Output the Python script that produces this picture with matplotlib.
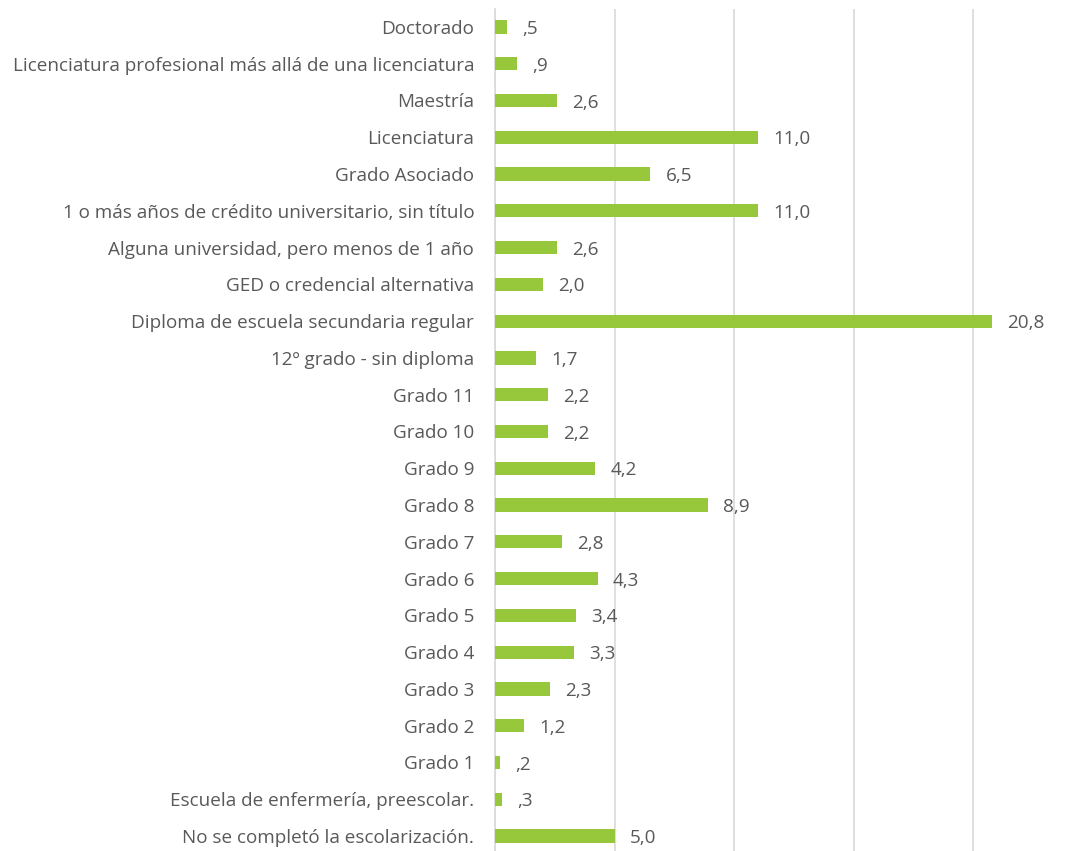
import numpy as np
import matplotlib.pyplot as plt

categories = [
    "Doctorado",
    "Licenciatura profesional más allá de una licenciatura",
    "Maestría",
    "Licenciatura",
    "Grado Asociado",
    "1 o más años de crédito universitario, sin título",
    "Alguna universidad, pero menos de 1 año",
    "GED o credencial alternativa",
    "Diploma de escuela secundaria regular",
    "12º grado - sin diploma",
    "Grado 11",
    "Grado 10",
    "Grado 9",
    "Grado 8",
    "Grado 7",
    "Grado 6",
    "Grado 5",
    "Grado 4",
    "Grado 3",
    "Grado 2",
    "Grado 1",
    "Escuela de enfermería, preescolar.",
    "No se completó la escolarización.",
]
values = [0.5, 0.9, 2.6, 11.0, 6.5, 11.0, 2.6, 2.0, 20.8, 1.7, 2.2, 2.2, 4.2,
          8.9, 2.8, 4.3, 3.4, 3.3, 2.3, 1.2, 0.2, 0.3, 5.0]


def fmt(v):
    s = "%.1f" % v
    if s.startswith("0"):
        s = s[1:]
    return s.replace(".", ",")


plt.rcParams['font.family'] = ['Open Sans', 'DejaVu Sans']
fig = plt.figure(figsize=(10.86, 8.51), dpi=100)
ax = fig.add_axes([495 / 1086, -0.004, 1 - 495 / 1086, 0.994])

y = np.arange(len(categories))
ax.barh(y, values, height=0.36, color='#97c83c', zorder=3)
for yi, v in zip(y, values):
    ax.annotate(fmt(v), (v, yi), xytext=(11, -1.5), textcoords='offset points',
                va='center', ha='left', fontsize=13.6, color='#595959')

ax.set_yticks(y)
ax.set_yticklabels(categories, fontsize=13.6, color='#595959')
ax.set_ylim(len(categories) - 0.5, -0.5)
ax.set_xlim(0, (1086 - 495) / 23.9)
ax.set_xticks([0, 5, 10, 15, 20])
ax.set_xticklabels([])
ax.tick_params(length=0, pad=15)
ax.grid(axis='x', color='#d9d9d9', lw=1.2, zorder=0)
for s in ['top', 'right', 'bottom']:
    ax.spines[s].set_visible(False)
ax.spines['left'].set_color('#d9d9d9')
ax.spines['left'].set_linewidth(1.2)

fig.savefig('out.png', dpi=100)
